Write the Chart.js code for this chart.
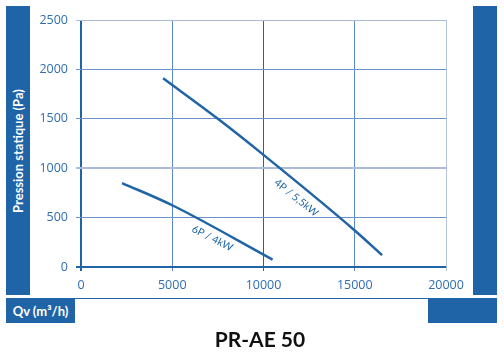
<!DOCTYPE html>
<html>
<head>
<meta charset="utf-8">
<script src="https://cdn.jsdelivr.net/npm/chart.js@4.4.1/dist/chart.umd.min.js"></script>
<style>
  html, body { margin: 0; padding: 0; background: #fff; }
  #wrap { position: relative; width: 504px; height: 364px; overflow: hidden; font-family: Lato, "Open Sans", sans-serif; }
  #chart { position: absolute; left: 0; top: 0; }
  .box { position: absolute; background: #1f64a6; }
  #ylab { left: 6px; top: 6px; width: 24px; height: 289px; }
  #ylab span { position: absolute; left: 50%; top: 50%; transform: translate(-50%, -50%) rotate(-90deg); white-space: nowrap; color: #fff; font-weight: bold; font-size: 13px; }
  #rbar { left: 473px; top: 6px; width: 24px; height: 289px; }
  #rule { position: absolute; left: 6px; top: 298px; width: 491px; height: 1px; background: #1f64a6; }
  #xlab { left: 6px; top: 299px; width: 69px; height: 24px; color: #fff; font-weight: bold; font-size: 13px; line-height: 24px; text-align: center; }
  #rbox { left: 428px; top: 299px; width: 69px; height: 24px; }
  #title { position: absolute; left: 0; width: 520px; top: 326px; text-align: center; font-weight: bold; font-size: 21px; color: #111; }
</style>
</head>
<body>
<div id="wrap">
  <canvas id="chart" width="504" height="364"></canvas>
  <div class="box" id="ylab"><span>Pression statique (Pa)</span></div>
  <div class="box" id="rbar"></div>
  <div id="rule"></div>
  <div class="box" id="xlab">Qv (m³/h)</div>
  <div class="box" id="rbox"></div>
  <div id="title">PR-AE 50</div>
</div>
<script>
const flow4P = [4500, 7500, 10000, 15000, 16500];
const pressure4P = [1910, 1500, 1135, 370, 120];
const flow6P = [2250, 5000, 10500];
const pressure6P = [850, 625, 75];
const curveLabels = ["4P / 5,5kW", "6P / 4kW"];
const labelAnchors = [[11800, 700], [7200, 290]];
const xTicks = [0, 5000, 10000, 15000, 20000];
const yTicks = [0, 500, 1000, 1500, 2000, 2500];

const blue = "#1f64a6";
const tickColor = "#2e6db4";

function toPoints(xs, ys) {
  return xs.map((x, i) => ({ x, y: ys[i] }));
}

const curveLabelPlugin = {
  id: "curveLabels",
  afterDatasetsDraw(chart) {
    const ctx = chart.ctx;
    const xs = chart.scales.x;
    const ys = chart.scales.y;
    chart.data.datasets.forEach((ds, i) => {
      const pts = ds.data;
      const first = pts[0];
      const last = pts[pts.length - 1];
      const dx = xs.getPixelForValue(last.x) - xs.getPixelForValue(first.x);
      const dy = ys.getPixelForValue(last.y) - ys.getPixelForValue(first.y);
      const angle = Math.atan2(dy, dx);
      const [ax, ay] = labelAnchors[i];
      ctx.save();
      ctx.translate(xs.getPixelForValue(ax), ys.getPixelForValue(ay));
      ctx.rotate(angle);
      ctx.fillStyle = blue;
      ctx.font = "10.5px Lato, 'Open Sans', sans-serif";
      ctx.textAlign = "center";
      ctx.textBaseline = "middle";
      ctx.fillText(curveLabels[i], 0, 0);
      ctx.restore();
    });
  },
};

new Chart(document.getElementById("chart"), {
  type: "line",
  data: {
    datasets: [
      {
        label: curveLabels[0],
        data: toPoints(flow4P, pressure4P),
        borderColor: blue,
        borderWidth: 2.5,
        pointRadius: 0,
        cubicInterpolationMode: "monotone",
      },
      {
        label: curveLabels[1],
        data: toPoints(flow6P, pressure6P),
        borderColor: blue,
        borderWidth: 2.5,
        pointRadius: 0,
        cubicInterpolationMode: "monotone",
      },
    ],
  },
  options: {
    responsive: false,
    animation: false,
    layout: { padding: { left: 20, right: 58, top: 20, bottom: 67 } },
    plugins: { legend: { display: false }, tooltip: { enabled: false } },
    scales: {
      x: {
        type: "linear",
        min: 0,
        max: 20000,
        afterFit(scale) { scale.height = 30; },
        afterBuildTicks(scale) { scale.ticks = xTicks.map((v) => ({ value: v })); },
        border: { display: false },
        grid: {
          tickLength: 4,
          color: (c) => (c.tick.value === 10000 ? "#2b5f9e" : c.tick.value === 20000 ? "#b3c3da" : c.tick.value === 0 ? blue : "#5b87c5"),
          lineWidth: (c) => (c.tick.value === 0 ? 2 : 1),
        },
        ticks: {
          color: tickColor,
          padding: 7,
          maxRotation: 0,
          font: { family: "'Open Sans'", size: 12.5 },
          callback: (v) => String(v),
        },
      },
      y: {
        type: "linear",
        min: 0,
        max: 2500,
        afterFit(scale) { scale.width = 61; },
        afterBuildTicks(scale) { scale.ticks = yTicks.map((v) => ({ value: v })); },
        border: { display: false },
        grid: {
          tickLength: 5,
          color: (c) => (c.tick.value === 0 ? blue : c.tick.value === 2500 || c.tick.value === 1000 ? "#aabcd7" : "#6a92c8"),
          lineWidth: (c) => (c.tick.value === 0 ? 2 : c.tick.value === 1000 ? 2 : 1),
        },
        ticks: {
          color: tickColor,
          padding: 8,
          font: { family: "'Open Sans'", size: 12.5 },
          callback: (v) => String(v),
        },
      },
    },
  },
  plugins: [curveLabelPlugin],
});
</script>
</body>
</html>
